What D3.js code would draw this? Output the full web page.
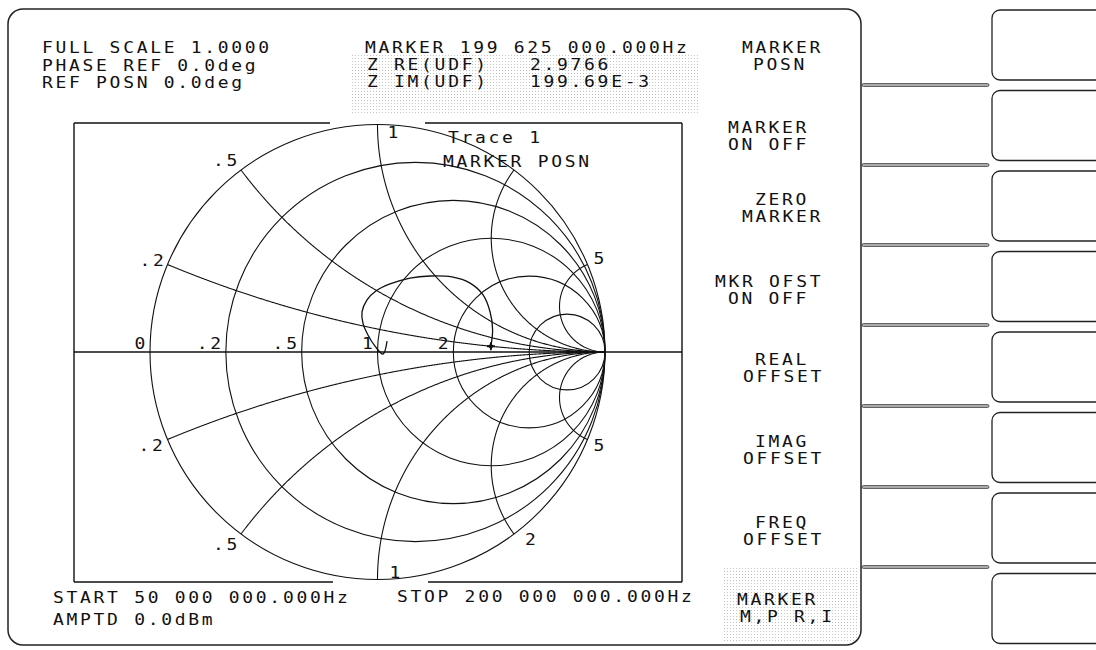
<!DOCTYPE html>
<html><head><meta charset="utf-8">
<script src="https://cdn.jsdelivr.net/npm/d3@7"></script>
<style>
html,body{margin:0;padding:0;background:#fff;}
svg{display:block;}
text{font-family:"DejaVu Sans Mono",monospace;font-size:15px;fill:#111;}
</style></head><body>
<svg id="c" width="1096" height="650"></svg>
<script>
// ---------- data ----------
const resistanceValues = [0, 0.2, 0.5, 1, 2, 5];
const resistanceLabels = ["0", ".2", ".5", "1", "2", ""];
const reactanceValues = [0.2, 0.5, 1, 2, 5];
const reactanceLabelsUpper = [".2", ".5", "1", "", "5"];
const reactanceLabelsLower = [".2", ".5", "1", "2", "5"];
// trace, reflection coefficient (re, im), 50 MHz -> 200 MHz
const traceRe = [0.042, 0.024, -0.011, -0.042, -0.064, -0.068, -0.046, -0.007, 0.055, 0.143, 0.231, 0.327, 0.407, 0.464, 0.495, 0.506];
const traceIm = [0.048, -0.009, 0.026, 0.075, 0.127, 0.176, 0.229, 0.268, 0.299, 0.325, 0.334, 0.330, 0.303, 0.251, 0.176, 0.097];
const markerZ = [2.9766, 0.19969];
const headerLeft = ["FULL SCALE 1.0000", "PHASE REF 0.0deg", "REF POSN 0.0deg"];
const headerMarker = "MARKER 199 625 000.000Hz";
const markerRows = ["Z RE(UDF)", "Z IM(UDF)"];
const markerVals = ["2.9766", "199.69E-3"];
const footerLeft = ["START 50 000 000.000Hz", "AMPTD 0.0dBm"];
const footerRight = "STOP 200 000 000.000Hz";
const traceTitle = ["Trace 1", "MARKER POSN"];
const softkeys = [["MARKER","POSN"],["MARKER","ON OFF"],["ZERO","MARKER"],["MKR OFST","ON OFF"],["REAL","OFFSET"],["IMAG","OFFSET"],["FREQ","OFFSET"],["MARKER","M,P R,I"]];

// ---------- layout ----------
const svg = d3.select("#c");
const cx = 377.5, cy = 352, R = 227.5;
const xS = d3.scaleLinear().domain([-1, 1]).range([cx - R, cx + R]);
const yS = d3.scaleLinear().domain([-1, 1]).range([cy + R, cy - R]);
const rad = v => xS(v) - xS(0);
const ink = "#111";

const defs = svg.append("defs");
const pat = defs.append("pattern").attr("id","stip").attr("width",3).attr("height",3).attr("patternUnits","userSpaceOnUse");
pat.append("rect").attr("width",3).attr("height",3).attr("fill","#fff");
pat.append("rect").attr("x",1).attr("y",1).attr("width",1).attr("height",1).attr("fill","#c4c4c4");

function txt(g, x, y, s, anchor) {
  g.append("text").attr("transform", `translate(${x},${y}) scale(1.2,1)`)
    .attr("text-anchor", anchor || "start").style("letter-spacing", "2.25px").text(s);
}

// stipple areas
svg.append("rect").attr("x",351).attr("y",55).attr("width",349).attr("height",60).attr("fill","url(#stip)");
svg.append("rect").attr("x",723).attr("y",567).attr("width",136).attr("height",76).attr("fill","url(#stip)");

// outer panel
svg.append("rect").attr("x",8).attr("y",9).attr("width",853).attr("height",636).attr("rx",15)
  .attr("fill","none").attr("stroke","#222").attr("stroke-width",1.5);

// softkey separators
[85,165,245,325,406,487,567].forEach(y => {
  svg.append("rect").attr("x",862).attr("y",y-1.5).attr("width",127).attr("height",3).attr("rx",1.5)
    .attr("fill","#aaa").attr("stroke","#333").attr("stroke-width",0.7);
});
// right boxes
d3.range(8).forEach(i => {
  svg.append("rect").attr("x",992).attr("y",10+i*80.5).attr("width",140).attr("height",70).attr("rx",8)
    .attr("fill","none").attr("stroke","#222").attr("stroke-width",1.3);
});

// plot frame
const frame = svg.append("g").attr("stroke", ink).attr("stroke-width", 1.4).attr("fill","none");
[[74,123,74,582],[682,123,682,582],[74,123,330,123],[425,123,682,123],[74,582,333,582],[428,582,682,582],[74,cy,682,cy]]
  .forEach(l => frame.append("line").attr("x1",l[0]).attr("y1",l[1]).attr("x2",l[2]).attr("y2",l[3]));

// grid
const grid = svg.append("g").attr("stroke", ink).attr("stroke-width", 1.1).attr("fill","none");
resistanceValues.forEach(r => {
  grid.append("circle").attr("cx", xS(r/(1+r))).attr("cy", yS(0)).attr("r", rad(1/(1+r)));
});
const gamma = (zr, zi) => {
  const dr = zr + 1, d = dr*dr + zi*zi;
  return [((zr-1)*dr + zi*zi)/d, (zi*dr - (zr-1)*zi)/d];
};
const line = d3.line().x(d => xS(d[0])).y(d => yS(d[1]));
reactanceValues.forEach(x => {
  [x, -x].forEach(xv => {
    const pts = d3.range(0, 600).map(k => gamma(Math.tan(k/600*Math.PI/2), xv));
    pts.push([1,0]);
    grid.append("path").attr("d", line(pts));
  });
});

// labels
const lab = svg.append("g");
resistanceValues.forEach((r,i) => {
  if (!resistanceLabels[i]) return;
  txt(lab, xS((r-1)/(r+1)) - 2, cy - 3, resistanceLabels[i], "end");
});
const upOff = [[-1,1,"end"],[-1,-4,"end"],[10,13,"start"],[6,-1,"start"],[6,-1,"start"]];
const loOff = [[-2,11,"end"],[-1,16,"end"],[12,-2,"start"],[11,11,"start"],[6,11,"start"]];
reactanceValues.forEach((x,i) => {
  const gu = gamma(0, x), gl = gamma(0, -x);
  if (reactanceLabelsUpper[i]) txt(lab, xS(gu[0])+upOff[i][0], yS(gu[1])+upOff[i][1], reactanceLabelsUpper[i], upOff[i][2]);
  if (reactanceLabelsLower[i]) txt(lab, xS(gl[0])+loOff[i][0], yS(gl[1])+loOff[i][1], reactanceLabelsLower[i], loOff[i][2]);
});

// trace
const mg = gamma(markerZ[0], markerZ[1]);
const tr = traceRe.map((v,i) => [v, traceIm[i]]).concat([mg]);
svg.append("path").attr("d", d3.line().x(d=>xS(d[0])).y(d=>yS(d[1])).curve(d3.curveCatmullRom)(tr))
  .attr("fill","none").attr("stroke",ink).attr("stroke-width",1.3);
const mx = xS(mg[0]), my = yS(mg[1]);
svg.append("path").attr("d", `M${mx-4},${my}L${mx+4},${my}M${mx},${my-4}L${mx},${my+4}`)
  .attr("stroke",ink).attr("stroke-width",1.8);
svg.append("path").attr("d", `M${mx-3},${my}L${mx},${my-3}L${mx+3},${my}L${mx},${my+3}Z`)
  .attr("fill",ink);

// texts
const tg = svg.append("g");
headerLeft.forEach((s,i) => txt(tg, 42, 53 + i*17.5, s));
txt(tg, 365, 53, headerMarker);
markerRows.forEach((s,i) => txt(tg, 367, 70 + i*17, s));
markerVals.forEach((s,i) => txt(tg, 530, 70 + i*17, s));
footerLeft.forEach((s,i) => txt(tg, 53, 603 + i*22, s));
txt(tg, 397, 602, footerRight);
txt(tg, 448, 143, traceTitle[0]);
txt(tg, 443, 167, traceTitle[1]);

const skX = [[742,753],[728,728],[755,742],[715,728],[755,743],[755,743],[755,743],[737,740]];
const skY = [53,133,205,287,365,447,528,605];
softkeys.forEach((k,i) => {
  txt(tg, skX[i][0], skY[i], k[0]);
  txt(tg, skX[i][1], skY[i] + 17, k[1]);
});
</script>
</body></html>
